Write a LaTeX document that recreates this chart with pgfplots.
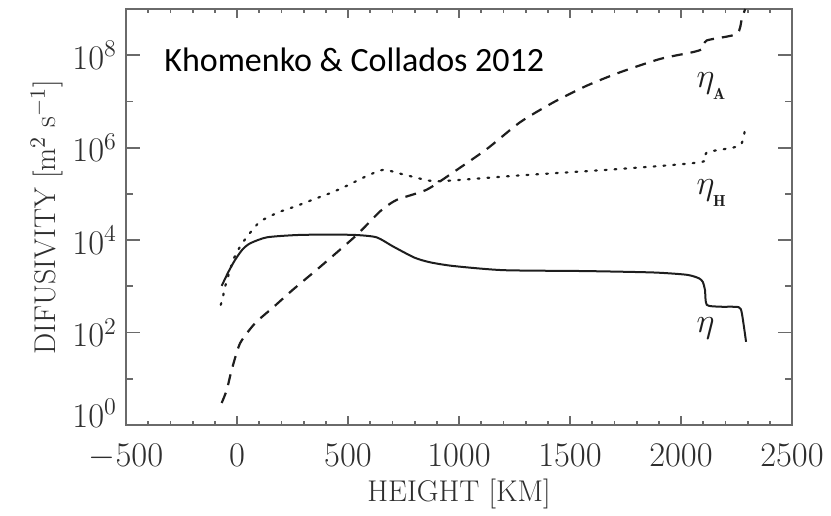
\documentclass[border=0pt]{standalone}
\usepackage{fontspec}
\usepackage{pgfplots}
\pgfplotsset{compat=1.18}
\newfontfamily\carlito{Carlito}
\definecolor{framegray}{HTML}{6A6A6A}
\definecolor{txtgray}{HTML}{2E2E2E}
\definecolor{curve}{HTML}{1E1E1E}
\begin{document}
\begin{tikzpicture}
\begin{axis}[
  scale only axis,
  width=333pt, height=208pt,
  xmin=-500, xmax=2500,
  ymode=log, ymin=1, ymax=1e9,
  xtick={-500,0,500,1000,1500,2000,2500},
  minor x tick num=4,
  ytick={1,1e2,1e4,1e6,1e8},
  yticklabels={\raisebox{-1pt}[0pt][0pt]{$10^{0}$},$10^{2}$,$10^{4}$,$10^{6}$,$10^{8}$},
  minor ytick={10,1e3,1e5,1e7},
  tick align=inside,
  ticks=both,
  axis line style={framegray, line width=1pt},
  every tick/.style={framegray, line width=0.9pt},
  major tick length=7pt, minor tick length=3.5pt,
  x tick style={/pgfplots/major tick length=4.5pt,/pgfplots/minor tick length=2.2pt},
  tick label style={font=\fontsize{16.5}{19}\selectfont, text=txtgray},
  xticklabel style={yshift=-6pt, /pgf/number format/1000 sep={}},
  yticklabel style={xshift=-1pt},
  xlabel={HEIGHT [KM]},
  ylabel={DIFUSIVITY [m$^2$ s$^{-1}$]},
  label style={font=\fontsize{15}{18}\selectfont, text=txtgray},
  xlabel style={yshift=2pt},
  ylabel style={yshift=-2pt},
  clip=false,
]
% eta (solid)
\addplot[curve, line width=1pt, smooth, tension=0.4] coordinates {
(-69,1023) (-40,2000) (-9,3715) (25,6300) (59,8511) (134,11482) (269,12882) (419,13183)
(539,12882) (629,11482) (704,7244) (800,4169) (870,3311) (975,2754) (1200,2239)
(1575,2138) (1876,1995) (2026,1778) (2080,1500) (2098,1250) (2108,832) (2116,398)
(2176,363) (2259,355) (2274,263) (2293,63)
};
% eta_H (dotted)
\addplot[curve, line width=1.1pt, smooth, tension=0.4, dash pattern=on 0.9pt off 4pt, line cap=round] coordinates {
(-73,398) (-62,631) (-54,977) (-17,3715) (14,7244) (51,12882) (104,25119) (186,39811)
(269,54954) (344,75858) (427,107152) (501,154882) (577,234423) (659,331131)
(742,269153) (862,194984) (930,190000) (1275,251189) (1725,346737) (2093,489779)
(2116,794328) (2266,1122018) (2289,3019952)
};
% eta_A (dashed)
\addplot[curve, line width=1.1pt, smooth, tension=0.4, dash pattern=on 5.5pt off 4pt] coordinates {
(-69,3.0) (-46,5.75) (-24,15.5) (14,58.9) (81,158.5) (164,355) (250,832)
(374,2630) (539,12882) (644,41687) (719,74131) (854,123027) (975,295121) (1125,933254)
(1275,3548134) (1425,9549926) (1575,21877616) (1725,42657952) (1906,83176377)
(2056,117489755) (2100,140000000) (2116,208929613) (2251,288403150) (2274,616595002)
(2289,1e9)
};
\node[anchor=base west, inner sep=0pt, font=\carlito\fontsize{17}{20}\selectfont] at (axis cs:-329,4.45e7) {Khomenko \& Collados 2012};
\node[anchor=base west, inner sep=0pt, font=\fontsize{16}{19}\selectfont, text=curve] at (axis cs:2068,1.96e7) {$\eta_{\lower3pt\hbox{$\scriptscriptstyle\mathbf{A}$}}$};
\node[anchor=base west, inner sep=0pt, font=\fontsize{16}{19}\selectfont, text=curve] at (axis cs:2068,9.5e4) {$\eta_{\lower3pt\hbox{$\scriptscriptstyle\mathbf{H}$}}$};
\node[anchor=base west, inner sep=0pt, font=\fontsize{16}{19}\selectfont, text=curve] at (axis cs:2068,98) {$\eta$};
\end{axis}
\pgfresetboundingbox
\path[use as bounding box] ([xshift=-63pt,yshift=-45pt]current axis.south west) rectangle ([xshift=19.5pt,yshift=4.5pt]current axis.north east);
\end{tikzpicture}
\end{document}
